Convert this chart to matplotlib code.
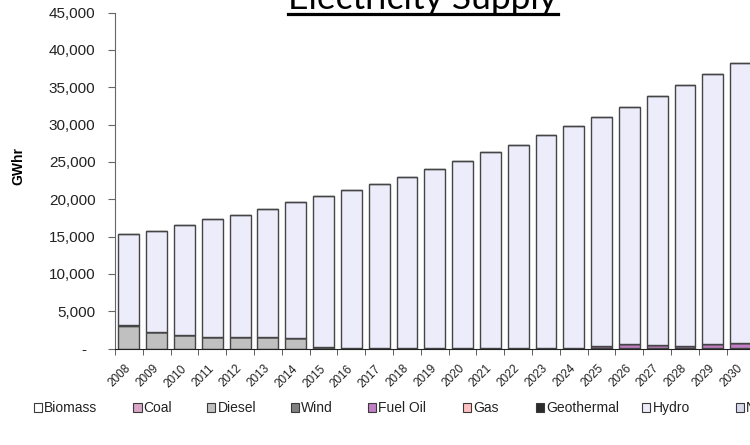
import matplotlib
matplotlib.use("Agg")
import matplotlib.pyplot as plt
from matplotlib.patches import Patch
from matplotlib.lines import Line2D

years = [str(y) for y in range(2008, 2031)]
totals = [15300, 15800, 16500, 17300, 17900, 18700, 19600, 20400, 21200, 22100,
          23000, 24100, 25100, 26300, 27300, 28600, 29800, 31050, 32400, 33800,
          35250, 36750, 38300]
biomass = [0] * 23
coal = [0] * 23
diesel = [3100, 2300, 1800, 1550, 1550, 1550, 1400, 20, 10, 10, 10, 10, 10, 10,
          10, 10, 10, 10, 10, 10, 10, 10, 10]
wind = [100, 0, 0, 0, 0, 0, 0, 150, 30, 30, 30, 30, 30, 30, 30, 30, 150, 80, 80,
        80, 80, 80, 150]
fuel_oil = [0] * 17 + [250, 500, 400, 300, 500, 650]
gas = [0] * 23
geothermal = [0] * 23
nuclear = [0] * 23
hydro = [t - (b + c + d + w + f + g + ge + n) for t, b, c, d, w, f, g, ge, n in
         zip(totals, biomass, coal, diesel, wind, fuel_oil, gas, geothermal, nuclear)]

series_names = ["Biomass", "Coal", "Diesel", "Wind", "Fuel Oil", "Gas",
                "Geothermal", "Hydro", "Nuclear"]
series_vals = [biomass, coal, diesel, wind, fuel_oil, gas, geothermal, hydro, nuclear]
colors = ["#ffffff", "#d8a6c8", "#c0c0c0", "#808080", "#c27fc6", "#ffc0c0",
          "#2b2b2b", "#ececfb", "#d9d9ee"]

W, H = 750, 445
fig = plt.figure(figsize=(W / 100, H / 100), dpi=100)
ax = fig.add_axes([115 / W, (H - 348.7) / H, 639.5 / W, (348.7 - 12.5) / H])

x = list(range(len(years)))
bottom = [0] * len(years)
for name, vals, col in zip(series_names, series_vals, colors):
    ax.bar(x, vals, bottom=bottom, width=0.75, color=col, edgecolor="#454545",
           linewidth=1.0, label=name)
    bottom = [b + v for b, v in zip(bottom, vals)]

ax.set_xlim(-0.5, len(years) - 0.5)
ax.set_ylim(0, 45000)
yt = list(range(0, 45001, 5000))
ax.set_yticks(yt)
ax.set_yticklabels(["-  " if v == 0 else f"{v:,}" for v in yt],
                   fontsize=11, family="Liberation Sans", color="#222222")
ax.tick_params(axis="y", direction="out", length=5, color="#666666", pad=9)

ax.set_xticks(x)
ax.set_xticklabels(years, rotation=45, ha="right", rotation_mode="anchor",
                   va="center", fontsize=8.5, family="Liberation Sans", color="#222222")
ax.tick_params(axis="x", which="major", length=0, pad=13)
ax.set_xticks([i - 0.5 for i in range(len(years) + 1)], minor=True)
ax.tick_params(axis="x", which="minor", direction="out", length=4, color="#444444")

for s in ["top", "right"]:
    ax.spines[s].set_visible(False)
ax.spines["left"].set_color("#666666")
ax.spines["bottom"].set_color("#222222")

fig.text(18.5 / W, (H - 166) / H, "GWhr", rotation=90, fontsize=10,
         fontweight="bold", family="Liberation Sans", ha="center", va="center")

# Title (cropped at top in reference), underlined
t = fig.text(423 / W, (H - 9) / H, "Electricity Supply", fontsize=22,
             family="Lato", ha="center", va="baseline")
fig.canvas.draw()
r = fig.canvas.get_renderer()
bb = t.get_window_extent(r)
t.set_fontsize(22 * 268 / bb.width)
fig.canvas.draw()
bb = t.get_window_extent(r)
fig.add_artist(Line2D([bb.x0 / W, bb.x1 / W], [(H - 13.5) / H, (H - 13.5) / H],
                      color="black", linewidth=2.3, transform=fig.transFigure))

# Legend entries placed individually along the bottom row
legend_x = [33.7, 133.3, 207, 291, 368, 462.7, 536, 642, 735.5]
for name, col, lx in zip(series_names, colors, legend_x):
    h = Patch(facecolor=col, edgecolor="#3a3a3a", linewidth=0.8)
    leg = fig.legend([h], [name], loc="center left",
                     bbox_to_anchor=(lx / W, (H - 408) / H), frameon=False,
                     borderpad=0, borderaxespad=0, handlelength=0.6,
                     handleheight=0.6, handletextpad=0.15,
                     prop={"family": "Liberation Sans", "size": 10},
                     labelcolor="#222222")

fig.savefig("out.png", dpi=100)
